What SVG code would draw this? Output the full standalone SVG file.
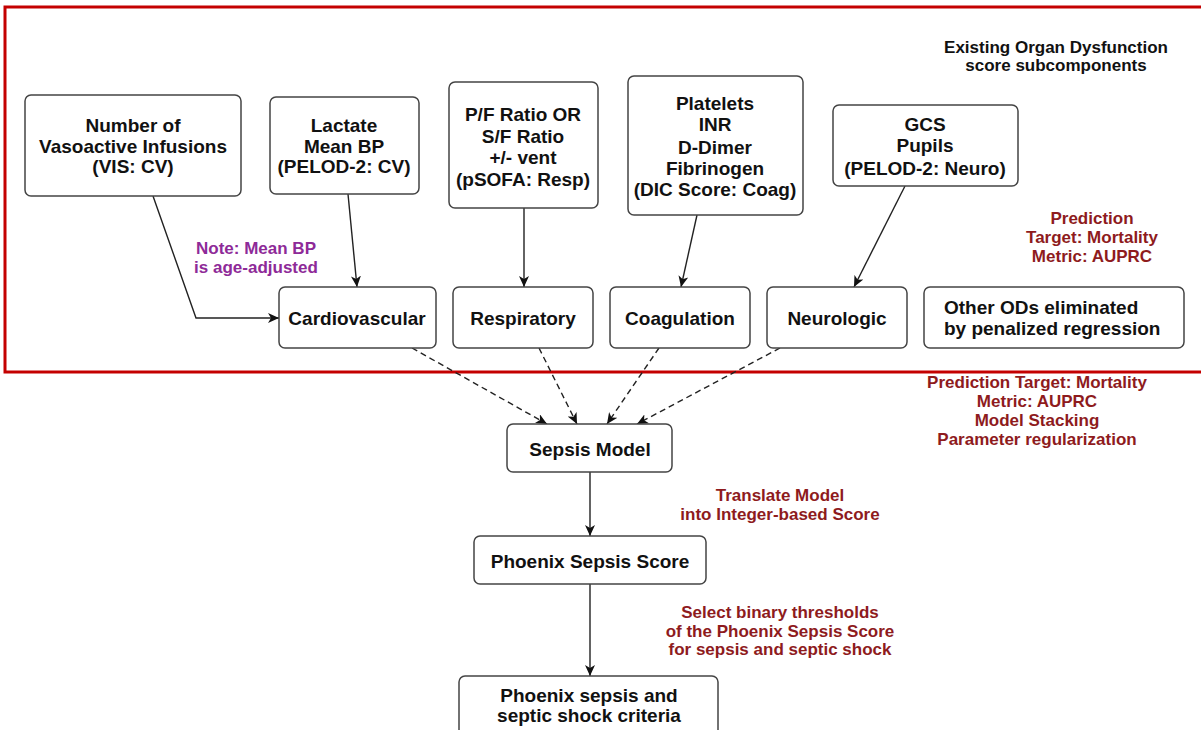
<svg xmlns="http://www.w3.org/2000/svg" width="1201" height="730" viewBox="0 0 1201 730">
<defs>
<marker id="arr" markerUnits="userSpaceOnUse" markerWidth="12" markerHeight="10" refX="11" refY="5" orient="auto">
<path d="M0,0 L11,5 L0,10 L3,5 z" fill="#111"/>
</marker>
<style>
.box{fill:#fff;stroke:#444;stroke-width:1.5}
.t{font-family:"Liberation Sans",Arial,sans-serif;font-weight:bold;font-size:19px;fill:#111;text-anchor:middle}
.s{font-family:"Liberation Sans",Arial,sans-serif;font-weight:bold;font-size:17px;text-anchor:middle}
.red{fill:#8e1b1d}
.pur{fill:#8e2a98}
.blk{fill:#111}
.c{fill:none;stroke:#222;stroke-width:1.4;marker-end:url(#arr)}
.d{stroke-dasharray:6,4}
</style>
</defs>
<rect x="5" y="7" width="1202" height="365" fill="none" stroke="#c40000" stroke-width="3"/>
<g id="connectors">
<path class="c" d="M153,196 L196,318 L279,318"/>
<path class="c" d="M348,194 L357,287"/>
<path class="c" d="M524,208 L524,287"/>
<path class="c" d="M697,215 L681,287"/>
<path class="c" d="M905,186 L854,287"/>
<path class="c d" d="M412,348 L547,424"/>
<path class="c d" d="M539,348 L577,424"/>
<path class="c d" d="M659,348 L607,424"/>
<path class="c d" d="M780,348 L637,424"/>
<path class="c" d="M590,472 L590,536"/>
<path class="c" d="M590,584 L590,676"/>
</g>
<g id="n-vis"><rect class="box" x="25" y="95" width="216" height="101" rx="6"/>
<text class="t" x="133" y="132">Number of</text><text class="t" x="133" y="153">Vasoactive Infusions</text><text class="t" x="133" y="173">(VIS: CV)</text></g>
<g id="n-lactate"><rect class="box" x="270" y="97" width="149" height="97" rx="6"/>
<text class="t" x="344" y="132">Lactate</text><text class="t" x="344" y="153">Mean BP</text><text class="t" x="344" y="173">(PELOD-2: CV)</text></g>
<g id="n-pf"><rect class="box" x="449" y="82" width="149" height="126" rx="6"/>
<text class="t" x="523" y="121">P/F Ratio OR</text><text class="t" x="523" y="143">S/F Ratio</text><text class="t" x="523" y="164">+/- vent</text><text class="t" x="523" y="186">(pSOFA: Resp)</text></g>
<g id="n-plt"><rect class="box" x="628" y="76" width="175" height="139" rx="6"/>
<text class="t" x="715" y="110">Platelets</text><text class="t" x="715" y="131">INR</text><text class="t" x="715" y="154">D-Dimer</text><text class="t" x="715" y="175">Fibrinogen</text><text class="t" x="715" y="196">(DIC Score: Coag)</text></g>
<g id="n-gcs"><rect class="box" x="833" y="105" width="185" height="81" rx="6"/>
<text class="t" x="925" y="131">GCS</text><text class="t" x="925" y="152">Pupils</text><text class="t" x="925" y="175">(PELOD-2: Neuro)</text></g>
<g id="n-cv"><rect class="box" x="279" y="287" width="157" height="61" rx="6"/><text class="t" x="357" y="325">Cardiovascular</text></g>
<g id="n-resp"><rect class="box" x="453" y="287" width="140" height="61" rx="6"/><text class="t" x="523" y="325">Respiratory</text></g>
<g id="n-coag"><rect class="box" x="610" y="287" width="140" height="61" rx="6"/><text class="t" x="680" y="325">Coagulation</text></g>
<g id="n-neuro"><rect class="box" x="767" y="287" width="140" height="61" rx="6"/><text class="t" x="837" y="325">Neurologic</text></g>
<g id="n-other"><rect class="box" x="924" y="287" width="260" height="61" rx="6"/>
<text class="t" x="944" y="314" style="text-anchor:start">Other ODs eliminated</text><text class="t" x="944" y="335" style="text-anchor:start">by penalized regression</text></g>
<g id="n-model"><rect class="box" x="507" y="424" width="165" height="48" rx="6"/><text class="t" x="590" y="456">Sepsis Model</text></g>
<g id="n-score"><rect class="box" x="474" y="536" width="232" height="48" rx="6"/><text class="t" x="590" y="568">Phoenix Sepsis Score</text></g>
<g id="n-criteria"><rect class="box" x="459" y="676" width="259" height="70" rx="6"/>
<text class="t" x="589" y="702">Phoenix sepsis and</text><text class="t" x="589" y="722">septic shock criteria</text></g>
<g id="labels">
<text class="s blk" x="1056" y="53">Existing Organ Dysfunction</text>
<text class="s blk" x="1056" y="71">score subcomponents</text>
<text class="s pur" x="256" y="254">Note: Mean BP</text>
<text class="s pur" x="256" y="273">is age-adjusted</text>
<text class="s red" x="1092" y="224">Prediction</text>
<text class="s red" x="1092" y="243">Target: Mortality</text>
<text class="s red" x="1092" y="262">Metric: AUPRC</text>
<text class="s red" x="1037" y="388">Prediction Target: Mortality</text>
<text class="s red" x="1037" y="407">Metric: AUPRC</text>
<text class="s red" x="1037" y="426">Model Stacking</text>
<text class="s red" x="1037" y="445">Parameter regularization</text>
<text class="s red" x="780" y="501">Translate Model</text>
<text class="s red" x="780" y="520">into Integer-based Score</text>
<text class="s red" x="780" y="618">Select binary thresholds</text>
<text class="s red" x="780" y="637">of the Phoenix Sepsis Score</text>
<text class="s red" x="780" y="655">for sepsis and septic shock</text>
</g>
</svg>
